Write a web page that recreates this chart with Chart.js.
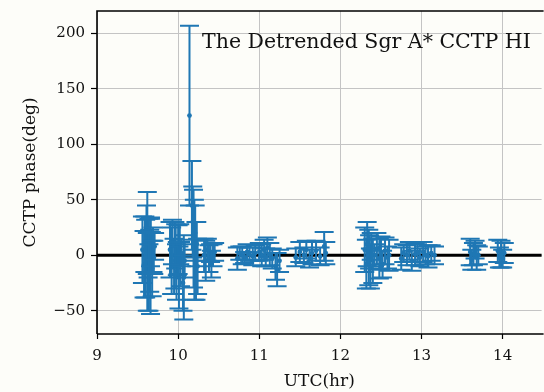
<!DOCTYPE html>
<html>
<head>
<meta charset="utf-8">
<script src="https://cdn.jsdelivr.net/npm/chart.js@4.4.1/dist/chart.umd.min.js"></script>
<style>
html,body{margin:0;padding:0;background:#fdfdf9;}
#wrap{width:544px;height:392px;}
</style>
</head>
<body>
<div id="wrap"><canvas id="c" width="544" height="392"></canvas></div>
<script>
// ---- data ----
const utcHours = [
  9.56,9.58,9.59,9.60,9.61,9.62,9.62,9.63,9.64,9.64,9.65,9.66,9.66,9.67,9.68,9.69,9.70,9.71,
  9.90,9.92,9.93,9.95,9.96,9.97,9.98,9.99,10.00,10.01,10.02,10.03,10.04,10.06,10.07,10.08,
  10.14,10.17,10.18,10.19,10.20,10.21,10.22,10.23,10.24,
  10.32,10.34,10.36,10.38,10.40,10.41,10.43,10.45,
  10.73,10.76,10.79,10.82,10.85,10.88,10.92,10.95,
  11.00,11.03,11.06,11.08,11.10,11.13,11.16,11.20,11.22,11.25,
  11.45,11.50,11.55,11.58,11.62,11.65,11.70,11.75,11.80,11.82,
  12.30,12.32,12.33,12.35,12.36,12.37,12.38,12.40,12.42,12.45,12.48,12.50,12.52,12.55,12.58,12.60,
  12.75,12.78,12.82,12.85,12.88,12.92,12.95,12.98,13.02,13.05,13.08,13.12,13.16,
  13.60,13.62,13.64,13.66,13.68,13.70,
  13.94,13.96,13.98,14.00,14.02
];
const phaseDeg = [
  5,-8,10,-3,15,20,-15,0,8,-20,-5,12,-10,3,-12,5,-2,8,
  5,-5,12,-10,0,8,-15,-3,5,-20,10,-8,2,-25,-20,-5,
  126,45,30,15,5,20,-5,10,-10,
  0,-5,5,-3,2,-8,0,3,
  -3,2,0,-2,3,1,-1,2,
  3,0,5,-2,7,1,-3,-10,-13,-5,
  -2,3,0,5,-3,2,4,-1,8,2,
  5,-8,10,-2,3,-12,8,-5,0,6,-3,2,-8,4,-2,0,
  -3,2,0,4,-5,1,2,-2,3,0,-1,2,0,
  3,-4,1,5,-2,0,
  4,-2,1,-3,2
];
const phaseErr = [
  30,30,25,35,30,37,35,20,25,30,28,22,43,18,25,20,15,12,
  25,30,20,25,30,20,25,15,22,28,18,20,12,25,38,15,
  81,40,32,44,45,25,35,20,25,
  15,18,10,12,8,12,10,8,
  10,6,8,5,7,6,8,7,
  8,10,9,8,9,10,9,12,15,10,
  8,9,7,8,8,10,9,8,13,10,
  20,22,20,25,15,18,12,20,10,14,18,15,12,12,10,14,
  10,8,9,8,9,10,8,8,9,8,10,7,8,
  12,9,10,8,11,8,10,9,12,8,9
];
const xTicks = [9,10,11,12,13,14];
const yTicks = [-50,0,50,100,150,200];
const xRange = [9, 14.48];
const yRange = [-71, 220.3];
const refLineY = 0;
const plotTitle = 'The Detrended Sgr A* CCTP HI';
const xLabel = 'UTC(hr)';
const yLabel = 'CCTP phase(deg)';

const C0 = '#1f77b4';
const SERIF = '"DejaVu Serif", serif';

const pts = utcHours.map((x, i) => ({x: x, y: phaseDeg[i], e: phaseErr[i]}));

const bgPlugin = {
  id: 'bg',
  beforeDraw(chart) {
    const ctx = chart.ctx;
    ctx.save();
    ctx.fillStyle = '#fdfdf9';
    ctx.fillRect(0, 0, chart.width, chart.height);
    ctx.restore();
  }
};

const refLinePlugin = {
  id: 'refLine',
  beforeDatasetsDraw(chart) {
    const ctx = chart.ctx, a = chart.chartArea, ys = chart.scales.y;
    const py = ys.getPixelForValue(refLineY);
    ctx.save();
    ctx.strokeStyle = '#000';
    ctx.lineWidth = 3;
    ctx.beginPath();
    ctx.moveTo(a.left, py);
    ctx.lineTo(a.right, py);
    ctx.stroke();
    ctx.restore();
  }
};

const errPlugin = {
  id: 'errbars',
  afterDatasetsDraw(chart) {
    const ctx = chart.ctx, xs = chart.scales.x, ys = chart.scales.y;
    const data = chart.data.datasets[0].data;
    ctx.save();
    ctx.strokeStyle = C0;
    ctx.lineWidth = 2;
    const cap = 9.5;
    data.forEach(p => {
      const px = xs.getPixelForValue(p.x);
      const t = ys.getPixelForValue(p.y + p.e);
      const b = ys.getPixelForValue(p.y - p.e);
      ctx.beginPath();
      ctx.moveTo(px, t); ctx.lineTo(px, b);
      ctx.moveTo(px - cap, t); ctx.lineTo(px + cap, t);
      ctx.moveTo(px - cap, b); ctx.lineTo(px + cap, b);
      ctx.stroke();
    });
    ctx.restore();
  }
};

const framePlugin = {
  id: 'frame',
  afterDraw(chart) {
    const ctx = chart.ctx, a = chart.chartArea;
    ctx.save();
    ctx.strokeStyle = '#000';
    ctx.lineWidth = 1.6;
    ctx.beginPath();
    ctx.moveTo(a.left, a.bottom);
    ctx.lineTo(a.left, a.top);
    ctx.lineTo(a.right + 2, a.top);
    ctx.moveTo(a.left, a.bottom);
    ctx.lineTo(a.right + 2, a.bottom);
    ctx.stroke();
    ctx.fillStyle = '#111';
    ctx.font = '20.5px ' + SERIF;
    ctx.textBaseline = 'alphabetic';
    ctx.textAlign = 'left';
    ctx.fillText(plotTitle, 202, 48);
    ctx.restore();
  }
};

new Chart(document.getElementById('c'), {
  type: 'scatter',
  data: {
    datasets: [{
      data: pts,
      backgroundColor: C0,
      borderColor: C0,
      pointRadius: 2.4,
      pointHoverRadius: 2.4,
      borderWidth: 0
    }]
  },
  options: {
    responsive: false,
    animation: false,
    devicePixelRatio: 1,
    layout: {padding: {top: 11, right: 0, left: 0, bottom: 0}},
    plugins: {legend: {display: false}, tooltip: {enabled: false}},
    scales: {
      x: {
        type: 'linear',
        min: xRange[0], max: xRange[1],
        afterBuildTicks(s) { s.ticks = xTicks.map(v => ({value: v})); },
        afterFit(s) { s.height = 58; s.paddingLeft = 0; s.paddingRight = 0; },
        grid: {color: '#c4c4c4', lineWidth: 1, tickColor: '#000', tickLength: 5, tickWidth: 1.2},
        border: {display: false},
        ticks: {color: '#111', font: {family: SERIF, size: 15}, padding: 8, maxRotation: 0},
        title: {display: true, text: xLabel, color: '#111', font: {family: SERIF, size: 17}, padding: {top: 0, bottom: 0}}
      },
      y: {
        type: 'linear',
        min: yRange[0], max: yRange[1],
        afterBuildTicks(s) { s.ticks = yTicks.map(v => ({value: v})); },
        afterFit(s) { s.width = 97; s.paddingTop = 0; s.paddingBottom = 0; },
        grid: {color: '#c4c4c4', lineWidth: 1, tickColor: '#000', tickLength: 6, tickWidth: 1.2},
        border: {display: false},
        ticks: {
          color: '#111', font: {family: SERIF, size: 15}, padding: 6,
          callback: v => (v < 0 ? '\u2212' + Math.abs(v) : String(v))
        },
        title: {display: true, text: yLabel, color: '#111', font: {family: SERIF, size: 17}, padding: {top: 20, bottom: 0}}
      }
    }
  },
  plugins: [bgPlugin, refLinePlugin, errPlugin, framePlugin]
});
</script>
</body>
</html>
